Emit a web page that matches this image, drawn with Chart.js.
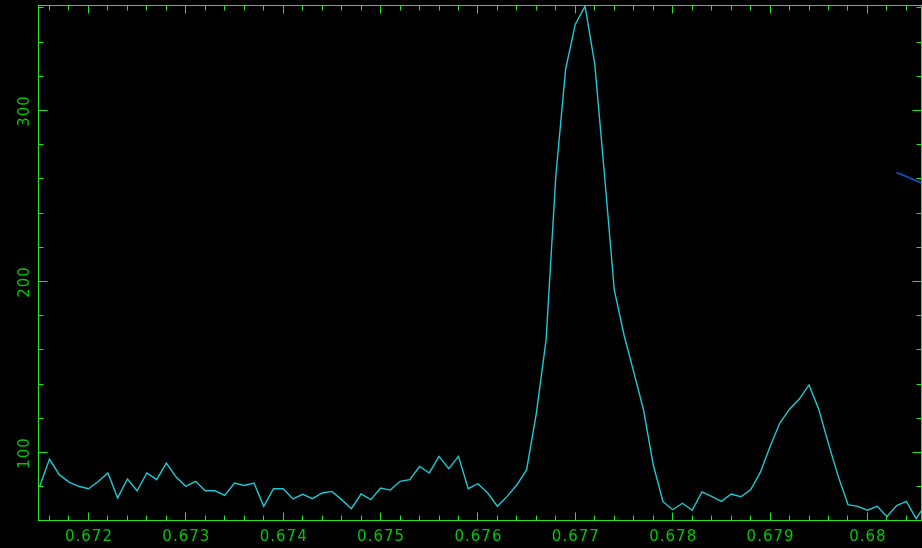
<!DOCTYPE html>
<html>
<head>
<meta charset="utf-8">
<script src="https://cdn.jsdelivr.net/npm/chart.js@4.4.1/dist/chart.umd.min.js"></script>
<style>
    html, body { margin: 0; padding: 0; background: #000; }
    canvas { display: block; }
</style>
</head>
<body>
<canvas id="spec" width="922" height="548"></canvas>
<script>
// wavelength samples (every 0.0001) and measured counts
var wavelength = [
    0.6715, 0.6716, 0.6717, 0.6718, 0.6719, 0.6720, 0.6721, 0.6722, 0.6723, 0.6724,
    0.6725, 0.6726, 0.6727, 0.6728, 0.6729, 0.6730, 0.6731, 0.6732, 0.6733, 0.6734,
    0.6735, 0.6736, 0.6737, 0.6738, 0.6739, 0.6740, 0.6741, 0.6742, 0.6743, 0.6744,
    0.6745, 0.6746, 0.6747, 0.6748, 0.6749, 0.6750, 0.6751, 0.6752, 0.6753, 0.6754,
    0.6755, 0.6756, 0.6757, 0.6758, 0.6759, 0.6760, 0.6761, 0.6762, 0.6763, 0.6764,
    0.6765, 0.6766, 0.6767, 0.6768, 0.6769, 0.6770, 0.6771, 0.6772, 0.6773, 0.6774,
    0.6775, 0.6776, 0.6777, 0.6778, 0.6779, 0.6780, 0.6781, 0.6782, 0.6783, 0.6784,
    0.6785, 0.6786, 0.6787, 0.6788, 0.6789, 0.6790, 0.6791, 0.6792, 0.6793, 0.6794,
    0.6795, 0.6796, 0.6797, 0.6798, 0.6799, 0.6800, 0.6801, 0.6802, 0.6803, 0.6804,
    0.6805, 0.6806
];
var counts = [
    80.2, 96.1, 87.0, 82.7, 80.2, 78.8, 83.0, 88.0, 73.4, 84.5,
    77.6, 88.0, 84.1, 93.8, 85.6, 80.2, 83.1, 77.6, 77.6, 74.9,
    82.1, 80.7, 82.1, 68.5, 78.8, 78.8, 72.8, 75.5, 73.0, 76.3,
    77.2, 72.4, 67.1, 75.7, 72.4, 79.2, 78.0, 83.1, 84.1, 91.8,
    88.0, 97.7, 90.5, 97.7, 78.8, 81.7, 76.3, 68.5, 74.3, 81.1,
    89.9, 123.0, 166.0, 262.0, 324.0, 350.5, 361.0, 327.0, 262.0, 195.0,
    168.7, 147.0, 125.0, 92.8, 71.2, 66.5, 70.3, 66.2, 76.9, 74.3,
    71.4, 75.7, 74.1, 78.2, 88.3, 103.5, 117.2, 125.3, 131.2, 139.5,
    125.3, 105.0, 86.0, 69.5, 68.5, 66.2, 68.5, 62.6, 68.9, 71.4,
    61.3, 70.0
];
// short overlay segment at the right edge
var overlayX = [0.6803, 0.6806];
var overlayY = [263.7, 256.5];

var xRange = [0.671487, 0.680555];
var yRange = [60.2, 361.4];
var xMajorTicks = [0.672, 0.673, 0.674, 0.675, 0.676, 0.677, 0.678, 0.679, 0.680];
var xTickLabels = ['0.672', '0.673', '0.674', '0.675', '0.676', '0.677', '0.678', '0.679', '0.68'];
var yMajorTicks = [100, 200, 300];
var yTickLabels = ['100', '200', '300'];
var xMinorStep = 0.0002;
var yMinorStep = 20;

var axisColor = '#22e622';
var labelColor = '#00c800';
var labelFont = '15px "DejaVu Sans", sans-serif';

function toPoints(xs, ys) {
    return xs.map(function (x, i) { return { x: x, y: ys[i] }; });
}

// box frame with inward ticks on all four sides, labels on left and bottom
var framePlugin = {
    id: 'frame',
    afterDatasetsDraw: function (chart) {
        var c = chart.ctx;
        var a = chart.chartArea;
        var xs = chart.scales.x;
        var ys = chart.scales.y;
        var k, v, p, len;

        c.save();
        c.strokeStyle = axisColor;
        c.lineWidth = 1;
        c.strokeRect(a.left, a.top, a.right - a.left, a.bottom - a.top);

        c.beginPath();
        for (k = Math.ceil(xs.min / xMinorStep); k <= Math.floor(xs.max / xMinorStep); k++) {
            v = k * xMinorStep;
            p = Math.floor(xs.getPixelForValue(v)) + 0.5;
            len = (k % 5 === 0) ? 8 : 5;
            c.moveTo(p, a.bottom);
            c.lineTo(p, a.bottom - len);
            c.moveTo(p, a.top);
            c.lineTo(p, a.top + len);
        }
        for (k = Math.ceil(ys.min / yMinorStep); k <= Math.floor(ys.max / yMinorStep); k++) {
            v = k * yMinorStep;
            p = Math.floor(ys.getPixelForValue(v)) + 0.5;
            len = (k % 5 === 0) ? 9 : 5;
            c.moveTo(a.left, p);
            c.lineTo(a.left + len, p);
            c.moveTo(a.right, p);
            c.lineTo(a.right - len, p);
        }
        c.stroke();

        c.fillStyle = labelColor;
        c.font = labelFont;
        if ('letterSpacing' in c) c.letterSpacing = '1px';
        c.textAlign = 'center';
        c.textBaseline = 'alphabetic';
        xMajorTicks.forEach(function (t, i) {
            c.fillText(xTickLabels[i], xs.getPixelForValue(t) + 0.5, a.bottom + 20);
        });
        yMajorTicks.forEach(function (t, i) {
            c.save();
            c.translate(28.5, ys.getPixelForValue(t) + 0.5);
            c.rotate(-Math.PI / 2);
            c.fillText(yTickLabels[i], 0, 0);
            c.restore();
        });
        c.restore();
    }
};

new Chart(document.getElementById('spec').getContext('2d'), {
    type: 'line',
    data: {
        datasets: [
            {
                data: toPoints(wavelength, counts),
                borderColor: '#1ccad6',
                borderWidth: 1.4,
                pointRadius: 0,
                tension: 0
            },
            {
                data: toPoints(overlayX, overlayY),
                borderColor: '#0a5ad2',
                borderWidth: 1.6,
                pointRadius: 0,
                tension: 0
            }
        ]
    },
    options: {
        responsive: false,
        animation: false,
        events: [],
        layout: { padding: { left: 38.5, top: 5.5, right: 0.5, bottom: 27.5 } },
        plugins: {
            legend: { display: false },
            tooltip: { enabled: false }
        },
        scales: {
            x: { type: 'linear', display: false, min: xRange[0], max: xRange[1] },
            y: { type: 'linear', display: false, min: yRange[0], max: yRange[1] }
        }
    },
    plugins: [framePlugin]
});
</script>
</body>
</html>
